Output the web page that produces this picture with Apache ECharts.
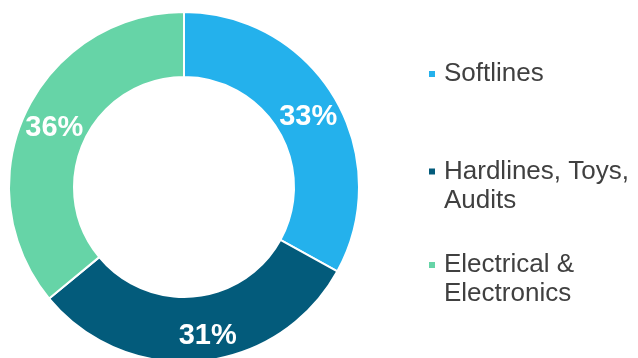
<!DOCTYPE html>
<html>
<head>
<meta charset="utf-8">
<script src="https://cdn.jsdelivr.net/npm/echarts@6/dist/echarts.min.js"></script>
<style>
html,body{margin:0;padding:0;background:#fff;}
#chart{width:638px;height:358px;}
</style>
</head>
<body>
<div id="chart"></div>
<script>
const categories = ['Softlines', 'Hardlines, Toys, Audits', 'Electrical & Electronics'];
const legendLabels = ['Softlines', '\nHardlines, Toys,\nAudits', '\nElectrical &\nElectronics'];
const values = [33, 31, 36];
const colors = ['#24B1EC', '#035B7B', '#66D4A7'];

const chart = echarts.init(document.getElementById('chart'), null, {renderer: 'canvas'});

const labelOffsets = [[-1, 4], [10, 4], [2, 3]];
const data = categories.map((c, i) => ({
  name: c,
  value: values[i],
  itemStyle: {color: colors[i]},
  label: {offset: labelOffsets[i]}
}));

const legendTops = [59.5, 128, 221.5];
const legends = categories.map((c, i) => ({
  data: [c],
  left: 427,
  top: legendTops[i],
  orient: 'vertical',
  padding: 0,
  icon: 'rect',
  itemWidth: 8,
  itemHeight: 8,
  selectedMode: false,
  formatter: () => legendLabels[i],
  textStyle: {
    fontFamily: 'Liberation Sans, Arial, sans-serif',
    fontSize: 26,
    lineHeight: 29,
    color: '#404040',
    padding: [0, 0, 0, 3]
  }
}));

chart.setOption({
  animation: false,
  legend: legends,
  series: [{
    type: 'pie',
    center: [184, 187],
    radius: [110, 175],
    startAngle: 90,
    clockwise: true,
    avoidLabelOverlap: false,
    itemStyle: {borderColor: '#ffffff', borderWidth: 2},
    label: {
      show: true,
      position: 'inside',
      formatter: '{c}%',
      color: '#ffffff',
      fontFamily: 'Liberation Sans, Arial, sans-serif',
      fontWeight: 'bold',
      fontSize: 29
    },
    labelLine: {show: false},
    emphasis: {disabled: true},
    data: data
  }]
});
</script>
</body>
</html>
